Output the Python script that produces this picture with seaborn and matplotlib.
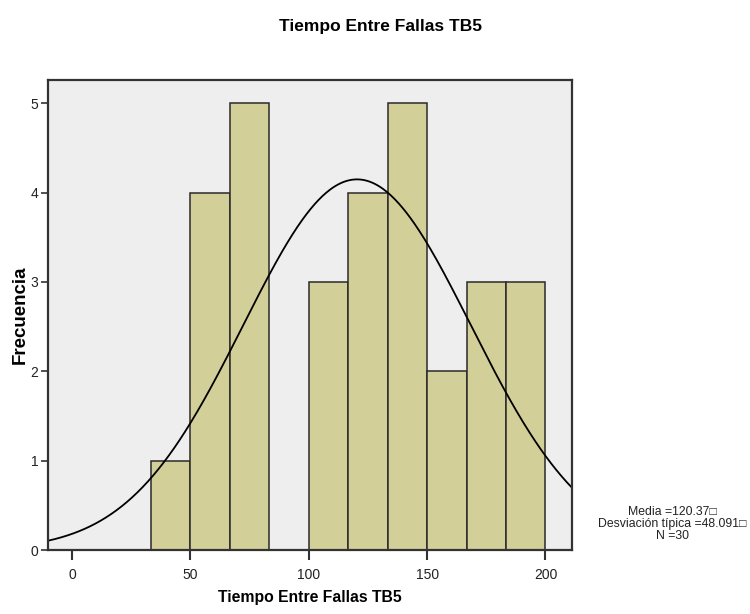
import numpy as np
import pandas as pd
import matplotlib
matplotlib.use("Agg")
import matplotlib.pyplot as plt
import seaborn as sns

# Histogram of time between failures (TB5)
bin_edges = [33.333, 50.0, 66.667, 83.333, 100.0, 116.667, 133.333, 150.0, 166.667, 183.333, 200.0]
counts = [1, 4, 5, 0, 3, 4, 5, 2, 3, 3]
mean_val = 120.37
std_val = 48.091
n_obs = 30
x_ticks = [0, 50, 100, 150, 200]
y_ticks = [0, 1, 2, 3, 4, 5]

title_text = "Tiempo Entre Fallas TB5"
x_label = "Tiempo Entre Fallas TB5"
y_label = "Frecuencia"

sns.set_theme(style="white")
fam = ["Liberation Sans", "DejaVu Sans"]
plt.rcParams["font.family"] = fam

fig = plt.figure(figsize=(7.5, 6.14), dpi=100)
ax = fig.add_axes([48 / 750, 1 - 550 / 614, (572 - 48) / 750, (550 - 80) / 614])
ax.set_facecolor("#EEEEEE")

centers = [(a + b) / 2 for a, b in zip(bin_edges[:-1], bin_edges[1:])]
df = pd.DataFrame({"x": centers, "w": counts})
sns.histplot(data=df, x="x", weights="w", bins=bin_edges, ax=ax,
             color="#D3CF98", alpha=1.0, edgecolor="#2a2a2a", linewidth=1.1)

# Fitted normal curve scaled to counts per bin
bw = bin_edges[1] - bin_edges[0]
xs = np.linspace(-10.2, 211.2, 400)
ys = n_obs * bw / (std_val * np.sqrt(2 * np.pi)) * np.exp(-0.5 * ((xs - mean_val) / std_val) ** 2)
sns.lineplot(x=xs, y=ys, ax=ax, color="black", linewidth=1.3)

ax.set_xlim(-10.2, 211.2)
ax.set_ylim(0, 5.26)
ax.set_xticks(x_ticks)
ax.set_yticks(y_ticks)
ax.tick_params(axis="x", direction="out", length=7, width=1.5, color="#333333",
               labelsize=10, pad=6, bottom=True, labelcolor="#222222")
ax.tick_params(axis="y", direction="out", length=5, width=1.2, color="#333333",
               labelsize=10, pad=2, left=True, labelcolor="#222222")
for s in ax.spines.values():
    s.set_color("#333333")
    s.set_linewidth(1.6)

ax.set_xlabel(x_label, fontsize=11.3, fontweight="bold", labelpad=6, color="black")
ax.set_ylabel(y_label, fontsize=13.5, fontweight="bold", labelpad=1, color="black")
fig.text(0.5067, 1 - 27 / 614, title_text, ha="center", va="center",
         fontsize=12.5, fontweight="bold", color="black")

stats = f"Media ={mean_val:.2f}\u25a1\nDesviación típica ={std_val:.3f}\u25a1\nN ={n_obs}"
fig.text(672 / 750, 1 - 524 / 614, stats, ha="center", va="center",
         multialignment="center", fontsize=8.8, linespacing=0.95, color="#222222")

fig.savefig("out.png", dpi=100)
